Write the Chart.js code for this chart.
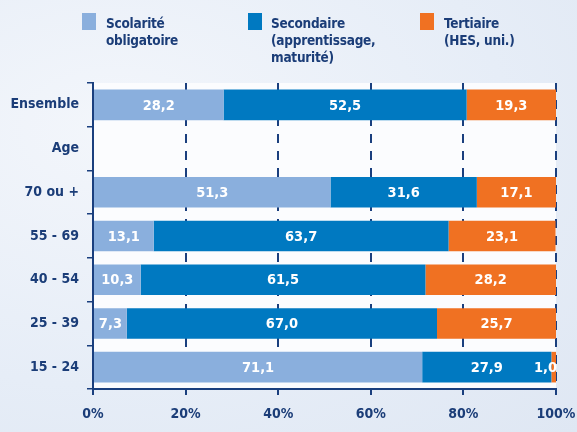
<!DOCTYPE html>
<html><head><meta charset="utf-8">
<script src="https://cdn.jsdelivr.net/npm/chart.js@4/dist/chart.umd.min.js"></script>
<style>
html,body{margin:0;padding:0;}
#wrap{position:relative;width:577px;height:432px;overflow:hidden;
 background:radial-gradient(ellipse at 20% 30%, #f3f6fb 0%, #e6edf7 60%, #dfe7f3 100%);}
canvas{position:absolute;left:0;top:0;}
.lg{position:absolute;font-family:'DejaVu Sans Condensed','Open Sans',sans-serif;font-weight:bold;font-size:13.5px;letter-spacing:-0.25px;line-height:17px;color:#1b3d78;}
.sw{position:absolute;width:14px;height:17px;}
</style></head><body>
<div id="wrap">
<canvas id="c" width="577" height="432"></canvas>
<div class="sw" style="left:82px;top:13px;background:#8aafdd"></div>
<div class="lg" style="left:106px;top:15px">Scolarité<br>obligatoire</div>
<div class="sw" style="left:248px;top:13px;background:#0079c1"></div>
<div class="lg" style="left:271px;top:15px">Secondaire<br>(apprentissage,<br>maturité)</div>
<div class="sw" style="left:420px;top:13px;background:#f07122"></div>
<div class="lg" style="left:444px;top:15px">Tertiaire<br>(HES, uni.)</div>
</div>
<script>
const categories = ["Ensemble","Age","70 ou +","55 - 69","40 - 54","25 - 39","15 - 24"];
const scolarite = [28.2, null, 51.3, 13.1, 10.3, 7.3, 71.1];
const secondaire = [52.5, null, 31.6, 63.7, 61.5, 67.0, 27.9];
const tertiaire = [19.3, null, 17.1, 23.1, 28.2, 25.7, 1.0];
const seriesNames = ["Scolarité obligatoire","Secondaire (apprentissage, maturité)","Tertiaire (HES, uni.)"];
const xTicks = [0,20,40,60,80,100];

const FONT = "'DejaVu Sans Condensed','Open Sans',sans-serif";
const NAVY = '#1b3d78';

const areaBg = {
  id:'areaBg',
  beforeDraw(chart){
    const {ctx, chartArea:a} = chart;
    ctx.save(); ctx.fillStyle='#fbfcfe'; ctx.fillRect(a.left,a.top,a.right-a.left,a.bottom-a.top); ctx.restore();
  }
};
const barLabels = {
  id:'barLabels',
  afterDatasetsDraw(chart){
    const ctx = chart.ctx;
    ctx.save();
    ctx.font = 'bold 14.5px ' + FONT;
    ctx.fillStyle = '#ffffff';
    ctx.textBaseline = 'middle';
    chart.data.datasets.forEach((ds,di)=>{
      const meta = chart.getDatasetMeta(di);
      meta.data.forEach((el,i)=>{
        const v = ds.data[i];
        if(v===null||v===undefined) return;
        const txt = v.toFixed(1).replace('.',',');
        const w = ctx.measureText(txt).width;
        const left = Math.min(el.x, el.base), right = Math.max(el.x, el.base);
        if (w + 4 > right-left) {
          ctx.textAlign='right';
          ctx.fillText(txt, right+1, el.y+1);
        } else {
          ctx.textAlign='center';
          ctx.fillText(txt, (left+right)/2, el.y+1);
        }
      });
    });
    ctx.restore();
  }
};

new Chart(document.getElementById('c'),{
  type:'bar',
  data:{
    labels:categories,
    datasets:[
      {label:seriesNames[0],data:scolarite,backgroundColor:'#8aafdd'},
      {label:seriesNames[1],data:secondaire,backgroundColor:'#0079c1'},
      {label:seriesNames[2],data:tertiaire,backgroundColor:'#f07122'}
    ]
  },
  options:{
    indexAxis:'y',
    responsive:false,
    animation:false,
    devicePixelRatio:1,
    layout:{padding:{left:0,right:21,top:83,bottom:0}},
    datasets:{bar:{categoryPercentage:1,barPercentage:0.7,borderWidth:0}},
    plugins:{legend:{display:false},tooltip:{enabled:false}},
    scales:{
      x:{
        stacked:true,min:0,max:100,
        afterBuildTicks(s){ s.ticks = xTicks.map(v=>({value:v})); },
        afterFit(s){ s.height = 43; s.paddingLeft = 0; s.paddingRight = 0; },
        ticks:{callback:v=>v+'%',color:NAVY,font:{family:FONT,size:14,weight:'bold'},padding:11,maxRotation:0},
        grid:{color:'#1a3f7e',lineWidth:2,tickLength:6,tickBorderDash:[],drawOnChartArea:true},
        border:{display:true,color:'#1a3f7e',width:2,dash:[9,8]}
      },
      y:{
        stacked:true,
        afterFit(s){ s.width = 93; s.paddingTop = 0; s.paddingBottom = 0; },
        ticks:{color:NAVY,font:{family:FONT,size:14,weight:'bold'},padding:8},
        grid:{offset:true,drawOnChartArea:false,color:'#1a3f7e',lineWidth:1.5,tickLength:6},
        border:{display:true,color:'#1a3f7e',width:2}
      }
    }
  },
  plugins:[areaBg,barLabels]
});
</script>
</body></html>
